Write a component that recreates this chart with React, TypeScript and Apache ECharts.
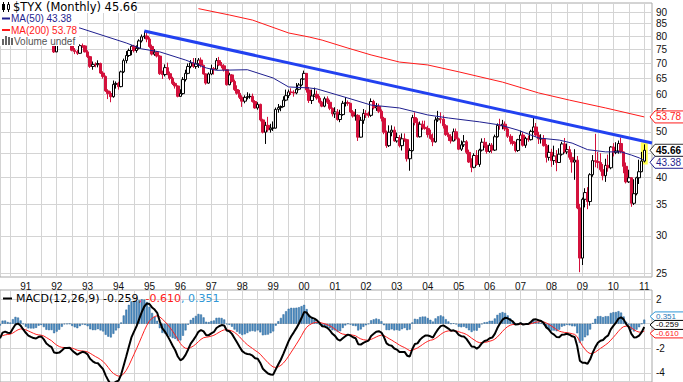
import React, { useEffect, useRef } from 'react';
import * as echarts from 'echarts';

// ---- categories: months shown on the x axis ----
const FIRST_YEAR = 1990;
const FIRST_MONTH = 3;
const LAST_YEAR = 2011;
const LAST_MONTH = 4;

// ---- $TYX monthly candles: [open, close, low, high] (yield x10) ----
const c1990 = [
  [84.6, 86.3, 84.0, 87.2], [86.3, 90.0, 86.0, 90.6], [90.0, 86.2, 85.5, 90.8], [86.2, 84.3, 83.6, 86.6],
  [84.3, 84.8, 83.4, 85.6], [84.8, 89.5, 84.5, 90.9], [89.5, 89.9, 88.7, 91.3], [89.9, 87.6, 87.0, 90.4],
  [87.6, 84.8, 84.2, 88.2], [84.8, 82.5, 81.8, 85.2],
];
const c1991 = [
  [82.5, 82.1, 81.0, 83.6], [82.1, 81.8, 80.6, 82.9], [81.8, 82.6, 81.2, 83.5], [82.6, 82.2, 80.9, 83.1],
  [82.2, 82.6, 81.6, 83.4], [82.6, 84.5, 82.3, 85.0], [84.5, 83.4, 82.9, 85.2], [83.4, 79.9, 79.5, 83.6],
  [79.9, 77.8, 77.3, 80.3], [77.8, 78.9, 77.4, 79.7], [78.9, 78.7, 77.9, 79.9], [78.7, 74.0, 73.6, 79.0],
];
const c1992 = [
  [74.0, 77.7, 73.9, 78.2], [77.7, 78.0, 77.0, 78.8], [78.0, 79.6, 77.5, 80.1], [79.6, 80.0, 78.7, 80.7],
  [80.0, 77.9, 77.4, 80.2], [77.9, 77.8, 77.0, 78.6], [77.8, 74.6, 74.2, 78.0], [74.6, 74.1, 73.2, 75.4],
  [74.1, 73.5, 72.9, 74.7], [73.5, 76.3, 73.3, 76.8], [76.3, 76.2, 75.5, 77.1], [76.2, 74.0, 73.8, 76.5],
];
const c1993 = [
  [74.0, 72.3, 71.8, 74.6], [72.3, 68.9, 68.4, 72.6], [68.9, 69.6, 67.8, 70.6], [69.6, 69.5, 68.6, 70.3],
  [69.5, 69.9, 68.6, 71.0], [69.9, 66.7, 66.4, 70.2], [66.7, 65.6, 64.9, 67.3], [65.6, 61.1, 60.8, 65.9],
  [61.1, 60.3, 58.7, 61.6], [60.3, 59.4, 57.8, 61.0], [59.4, 63.1, 59.1, 64.3], [63.1, 63.4, 61.8, 64.0],
];
const c1994 = [
  [63.4, 62.4, 61.5, 63.9], [62.4, 67.1, 62.2, 67.5], [67.1, 70.9, 66.7, 71.6], [70.9, 72.7, 70.0, 74.3],
  [72.7, 74.5, 72.2, 75.2], [74.5, 76.1, 72.8, 76.5], [76.1, 74.5, 73.8, 76.6], [74.5, 75.3, 73.7, 76.4],
  [75.3, 78.1, 74.9, 78.7], [78.1, 79.7, 77.5, 80.6], [79.7, 80.0, 78.9, 81.9], [80.0, 78.8, 77.6, 81.5],
];
const c1995 = [
  [78.8, 76.0, 75.5, 79.5], [76.0, 73.2, 72.7, 76.7], [73.2, 73.9, 72.6, 75.0], [73.9, 72.5, 72.0, 74.3],
  [72.5, 66.5, 66.1, 72.8], [66.5, 66.2, 64.8, 67.5], [66.2, 68.5, 65.6, 69.6], [68.5, 66.5, 66.0, 70.2],
  [66.5, 65.0, 64.4, 67.2], [65.0, 63.4, 62.9, 65.5], [63.4, 62.6, 61.8, 63.9], [62.6, 59.5, 59.2, 62.8],
];
const c1996 = [
  [59.5, 60.3, 59.4, 61.6], [60.3, 64.6, 60.0, 65.4], [64.6, 66.6, 64.0, 67.8], [66.6, 68.9, 66.3, 69.9],
  [68.9, 70.1, 68.3, 71.1], [70.1, 68.9, 68.4, 71.8], [68.9, 69.8, 68.1, 71.8], [69.8, 71.1, 68.4, 71.8],
  [71.1, 69.3, 68.6, 72.0], [69.3, 66.4, 66.2, 69.5], [66.4, 63.5, 63.0, 66.6], [63.5, 66.4, 63.3, 66.9],
];
const c1997 = [
  [66.4, 68.1, 66.0, 69.5], [68.1, 68.0, 66.2, 68.7], [68.0, 70.9, 67.8, 71.8], [70.9, 69.4, 69.0, 72.2],
  [69.4, 69.1, 68.3, 70.4], [69.1, 67.8, 67.2, 69.7], [67.8, 63.0, 62.7, 67.9], [63.0, 66.1, 62.8, 66.8],
  [66.1, 64.0, 63.6, 66.4], [64.0, 61.5, 61.1, 64.6], [61.5, 60.4, 60.0, 62.8], [60.4, 59.2, 58.7, 61.4],
];
const c1998 = [
  [59.2, 58.1, 56.5, 59.8], [58.1, 59.2, 57.5, 59.8], [59.2, 59.4, 58.6, 60.7], [59.4, 59.5, 58.8, 60.3],
  [59.5, 58.0, 57.7, 60.3], [58.0, 56.2, 56.0, 58.4], [56.2, 57.2, 55.7, 57.8], [57.2, 53.0, 52.6, 57.4],
  [53.0, 49.9, 49.6, 53.3], [49.9, 51.6, 47.1, 52.5], [51.6, 50.5, 50.0, 53.8], [50.5, 50.9, 49.8, 52.0],
];
const c1999 = [
  [50.9, 50.9, 50.2, 52.6], [50.9, 55.8, 50.8, 56.3], [55.8, 56.3, 54.9, 57.3], [56.3, 56.6, 55.3, 56.9],
  [56.6, 58.4, 56.4, 59.5], [58.4, 59.7, 58.1, 61.5], [59.7, 60.8, 59.0, 61.5], [60.8, 60.6, 59.9, 61.9],
  [60.6, 60.5, 59.4, 61.3], [60.5, 61.6, 60.1, 63.5], [61.6, 62.9, 61.3, 63.5], [62.9, 64.8, 62.5, 65.0],
];
const c2000 = [
  [64.8, 66.6, 64.6, 67.5], [66.6, 61.4, 60.6, 66.7], [61.4, 58.3, 57.6, 62.3], [58.3, 59.6, 57.3, 61.5],
  [59.6, 60.1, 59.4, 62.1], [60.1, 59.0, 58.5, 61.2], [59.0, 57.8, 57.4, 59.6], [57.8, 56.7, 56.4, 58.2],
  [56.7, 58.8, 56.4, 59.4], [58.8, 57.8, 57.3, 59.5], [57.8, 56.1, 55.6, 58.5], [56.1, 54.6, 53.9, 56.3],
];
const c2001 = [
  [54.6, 55.1, 53.5, 56.4], [55.1, 53.1, 52.8, 55.9], [53.1, 54.4, 52.4, 55.7], [54.4, 57.5, 54.1, 58.2],
  [57.5, 57.7, 56.6, 59.3], [57.7, 57.5, 56.8, 58.3], [57.5, 55.1, 54.8, 57.6], [55.1, 54.0, 53.6, 55.6],
  [54.0, 54.2, 52.8, 55.9], [54.2, 48.7, 47.8, 54.5], [48.7, 52.9, 48.6, 53.8], [52.9, 54.7, 52.0, 55.9],
];
const c2002 = [
  [54.7, 54.3, 53.5, 55.6], [54.3, 54.2, 53.6, 55.2], [54.2, 58.0, 53.8, 58.9], [58.0, 56.2, 55.8, 58.5],
  [56.2, 56.6, 55.4, 57.6], [56.6, 55.3, 54.8, 57.4], [55.3, 53.4, 52.6, 55.8], [53.4, 49.9, 49.4, 53.8],
  [49.9, 46.7, 46.2, 50.3], [46.7, 49.9, 46.4, 51.6], [49.9, 50.4, 48.9, 51.6], [50.4, 47.8, 47.6, 51.3],
];
const c2003 = [
  [47.8, 48.6, 47.4, 49.8], [48.6, 46.7, 46.3, 49.2], [46.7, 48.3, 45.6, 49.6], [48.3, 48.1, 47.6, 49.6],
  [48.1, 43.8, 43.2, 48.3], [43.8, 45.6, 41.3, 46.1], [45.6, 53.6, 45.4, 54.3], [53.6, 52.3, 51.6, 55.0],
  [52.3, 48.8, 48.6, 53.4], [48.8, 51.9, 48.6, 52.6], [51.9, 51.1, 50.5, 52.8], [51.1, 50.8, 50.5, 52.8],
];
const c2004 = [
  [50.8, 49.3, 48.6, 51.5], [49.3, 48.4, 48.1, 50.5], [48.4, 47.6, 46.6, 49.6], [47.6, 53.0, 47.4, 53.8],
  [53.0, 53.3, 52.5, 55.4], [53.3, 53.2, 52.1, 55.0], [53.2, 51.5, 50.8, 54.2], [51.5, 49.3, 49.0, 51.9],
  [49.3, 48.8, 47.8, 49.8], [48.8, 47.8, 47.2, 49.4], [47.8, 50.0, 47.7, 50.8], [50.0, 48.3, 47.9, 50.8],
];
const c2005 = [
  [48.3, 45.9, 45.7, 48.6], [45.9, 46.9, 45.5, 47.9], [46.9, 47.6, 46.4, 49.2], [47.6, 45.2, 44.8, 48.0],
  [45.2, 43.1, 42.9, 45.8], [43.1, 42.0, 41.0, 43.9], [42.0, 44.5, 41.8, 45.0], [44.5, 42.6, 42.3, 45.7],
  [42.6, 45.7, 42.1, 46.0], [45.7, 47.5, 45.4, 48.4], [47.5, 46.8, 46.2, 48.5], [46.8, 45.4, 44.9, 47.6],
];
const c2006 = [
  [45.4, 46.8, 45.1, 47.3], [46.8, 45.7, 45.0, 47.3], [45.7, 48.8, 45.5, 49.3], [48.8, 51.6, 48.6, 52.1],
  [51.6, 51.5, 50.5, 53.3], [51.5, 51.9, 50.6, 53.0], [51.9, 50.7, 50.2, 52.6], [50.7, 48.9, 48.5, 51.1],
  [48.9, 47.7, 47.0, 49.4], [47.7, 47.2, 46.7, 49.0], [47.2, 45.6, 45.2, 47.6], [45.6, 48.1, 45.3, 48.3],
];
const c2007 = [
  [48.1, 49.2, 47.8, 50.3], [49.2, 46.8, 46.5, 49.9], [46.8, 48.4, 46.2, 48.8], [48.4, 48.1, 47.6, 49.1],
  [48.1, 50.1, 47.9, 50.5], [50.1, 51.2, 49.8, 54.0], [51.2, 49.2, 48.8, 52.2], [49.2, 48.3, 47.1, 50.0],
  [48.3, 48.3, 47.2, 49.4], [48.3, 46.7, 46.5, 49.2], [46.7, 44.1, 43.0, 47.1], [44.1, 45.2, 43.4, 46.9],
];
const c2008 = [
  [45.2, 43.4, 42.1, 46.0], [43.4, 44.4, 42.5, 46.7], [44.4, 43.0, 41.2, 45.7], [43.0, 44.8, 42.9, 46.1],
  [44.8, 47.1, 44.5, 47.6], [47.1, 45.3, 45.0, 48.5], [45.3, 45.8, 44.8, 47.2], [45.8, 44.1, 43.6, 46.6],
  [44.1, 43.1, 40.9, 45.2], [43.1, 43.5, 39.5, 45.9], [43.5, 34.4, 34.2, 44.4], [34.4, 26.9, 25.1, 35.1],
];
const c2009 = [
  [26.9, 35.9, 26.0, 36.2], [35.9, 37.1, 34.5, 37.9], [37.1, 35.5, 34.2, 38.1], [35.5, 40.5, 34.8, 40.8],
  [40.5, 43.4, 40.1, 44.6], [43.4, 43.2, 42.0, 49.5], [43.2, 43.0, 41.8, 45.3], [43.0, 41.5, 41.1, 45.0],
  [41.5, 40.3, 39.4, 42.7], [40.3, 42.4, 39.1, 43.8], [42.4, 41.9, 41.1, 44.7], [41.9, 46.4, 41.6, 46.6],
];
const c2010 = [
  [46.4, 45.2, 44.3, 47.3], [45.2, 45.5, 44.8, 47.5], [45.5, 47.2, 44.9, 47.9], [47.2, 45.3, 45.0, 48.6],
  [45.3, 42.2, 40.8, 45.4], [42.2, 39.1, 38.8, 43.0], [39.1, 39.9, 38.9, 41.5], [39.9, 35.2, 34.6, 40.0],
  [35.2, 36.9, 34.9, 39.6], [36.9, 39.9, 36.6, 40.1], [39.9, 41.1, 38.7, 43.6], [41.1, 43.3, 41.0, 45.3],
];
const c2011 = [[43.3, 45.66, 43.0, 47.0]];

// ---- moving averages: [month, value] ----
const ma50Points: [string, number][] = [
  ['1990-03', 85.0], ['1992-10', 83.2], ['1994-04', 77.3], ['1994-10', 75.1], ['1995-05', 74.0],
  ['1996-03', 71.1], ['1996-11', 68.4], ['1997-03', 67.6], ['1998-03', 67.8], ['1999-01', 65.1],
  ['1999-07', 62.3], ['2000-03', 62.0], ['2000-06', 61.7], ['2001-06', 59.0], ['2002-03', 57.0],
  ['2003-02', 56.2], ['2004-01', 54.3], ['2004-09', 53.5], ['2005-09', 52.5], ['2006-05', 51.7],
  ['2006-12', 50.4], ['2007-08', 48.5], ['2008-04', 48.0], ['2008-09', 47.3], ['2009-03', 45.8],
  ['2009-10', 45.3], ['2010-04', 45.3], ['2010-08', 44.6], ['2010-11', 44.0], ['2011-01', 43.38],
];
const ma200Points: [string, number][] = [
  ['1996-08', 91.5], ['1997-08', 88.7], ['1998-05', 86.5], ['1999-07', 81.2], ['2000-03', 79.6],
  ['2000-08', 78.4], ['2001-06', 75.4], ['2002-03', 72.9], ['2003-02', 70.4], ['2004-01', 69.4],
  ['2005-01', 67.1], ['2006-06', 63.8], ['2007-08', 60.5], ['2008-08', 58.4], ['2009-10', 56.2],
  ['2011-01', 53.78],
];
const trendPoints: [string, number][] = [['1994-11', 82.0], ['2011-04', 47.3]];

// ---- axis ticks (gridlines) and the tick labels left visible ----
const priceTicks = [25, 30, 35, 40, 45, 50, 55, 60, 65, 70, 75, 80, 85, 90];
const priceLabels = [25, 30, 35, 40, 50, 55, 60, 65, 70, 75, 80, 85, 90];
const macdTicks = [-4, -2, 0, 2];
const macdLabels = [-4, -2, 2];

// ---- last values shown in legends / tags ----
const lastClose = 45.66;
const lastMa50 = 43.38;
const lastMa200 = 53.78;
const lastMacd = -0.259;
const lastSignal = -0.61;
const lastHist = 0.351;

// state of the MACD averages just before the first visible month
const macdSeed = { ema12: 85.0, ema26: 86.4, signal: -1.0 };

const AXIS_FONT = '"Liberation Sans", Arial, sans-serif';
const LEG_FONT = '"DejaVu Sans", Verdana, sans-serif';
const RED = '#d3113c';
const HIST_BLUE = '#4a8cc4';
const NAVY = '#1f1f8f';
const LINE_RED = '#ff1a1a';

function buildMonths(): string[] {
  const out: string[] = [];
  let y = FIRST_YEAR;
  let m = FIRST_MONTH;
  while (y < LAST_YEAR || (y === LAST_YEAR && m <= LAST_MONTH)) {
    out.push(`${y}-${String(m).padStart(2, '0')}`);
    m += 1;
    if (m > 12) { m = 1; y += 1; }
  }
  return out;
}

export default function App() {
  const ref = useRef<HTMLDivElement>(null);
  useEffect(() => {
    const months = buildMonths();
    const candles = [
      ...c1990, ...c1991, ...c1992, ...c1993, ...c1994, ...c1995, ...c1996, ...c1997, ...c1998, ...c1999,
      ...c2000, ...c2001, ...c2002, ...c2003, ...c2004, ...c2005, ...c2006, ...c2007, ...c2008, ...c2009,
      ...c2010, ...c2011,
    ];
    const L = Math.log;
    const candleData = candles.map((c) => c.map((v) => L(v)));
    const closes = candles.map((c) => c[1]);

    // MACD(12,26,9)
    let e12 = macdSeed.ema12, e26 = macdSeed.ema26, sig = macdSeed.signal;
    const macd: number[] = [], signal: number[] = [], hist: number[] = [];
    closes.forEach((c) => {
      e12 += (c - e12) * (2 / 13);
      e26 += (c - e26) * (2 / 27);
      const m = e12 - e26;
      sig += (m - sig) * (2 / 10);
      macd.push(m); signal.push(sig); hist.push(m - sig);
    });

    const yMaxLn = 4.544;
    const yMinLn = 3.1993;
    const gridLine = { show: true, lineStyle: { color: '#d4d4d4', width: 1 } };
    const halfYear = (_i: number, v: string) => v.endsWith('-01') || v.endsWith('-07');

    const chart = echarts.init(ref.current!, null, { renderer: 'svg' });
    chart.setOption({
      animation: false,
      backgroundColor: '#fff',
      grid: [
        { left: 0, right: 31, top: 3, height: 274, show: true, borderColor: '#a8a8a8', borderWidth: 1, backgroundColor: 'transparent' },
        { left: 0, right: 31, top: 290, height: 92, show: true, borderColor: '#a8a8a8', borderWidth: 1, backgroundColor: 'transparent' },
      ],
      xAxis: [
        {
          type: 'category', gridIndex: 0, data: months, boundaryGap: false,
          axisLine: { show: false }, axisTick: { show: false },
          axisLabel: {
            interval: (_i: number, v: string) => v.endsWith('-01'),
            formatter: (v: string) => v.slice(2, 4),
            fontSize: 10, fontFamily: AXIS_FONT, color: '#111', margin: 4,
          },
          splitLine: { ...gridLine, interval: halfYear },
        },
        {
          type: 'category', gridIndex: 1, data: months, boundaryGap: false,
          axisLine: { show: false }, axisTick: { show: false }, axisLabel: { show: false },
          splitLine: { ...gridLine, interval: halfYear },
        },
      ],
      yAxis: [
        {
          type: 'value', gridIndex: 0, position: 'right', min: yMinLn, max: yMaxLn, scale: true,
          axisLine: { show: false },
          axisTick: { show: false, customValues: priceTicks.map((t) => L(t)) },
          axisLabel: {
            customValues: priceLabels.map((t) => L(t)),
            formatter: (v: number) => String(Math.round(Math.exp(v))),
            fontSize: 10, fontFamily: AXIS_FONT, color: '#111', margin: 4,
          },
          splitLine: gridLine,
        },
        {
          type: 'value', gridIndex: 1, position: 'right', min: -4.75, max: 2.75,
          axisLine: { show: false },
          axisTick: { show: false, customValues: macdTicks },
          axisLabel: {
            customValues: macdLabels,
            formatter: (v: number) => String(Math.round(v)),
            fontSize: 10, fontFamily: AXIS_FONT, color: '#111', margin: 4,
          },
          splitLine: gridLine,
        },
      ],
      series: [
        {
          type: 'candlestick', xAxisIndex: 0, yAxisIndex: 0, data: candleData, barWidth: 3,
          itemStyle: { color: '#ffffff', color0: RED, borderColor: '#000000', borderColor0: RED, borderWidth: 1 },
        },
        {
          type: 'line', xAxisIndex: 0, yAxisIndex: 0, symbol: 'none',
          data: ma50Points.map(([m, v]) => [m, L(v)]),
          lineStyle: { color: NAVY, width: 1 },
        },
        {
          type: 'line', xAxisIndex: 0, yAxisIndex: 0, symbol: 'none',
          data: ma200Points.map(([m, v]) => [m, L(v)]),
          lineStyle: { color: LINE_RED, width: 1 },
        },
        {
          type: 'line', xAxisIndex: 0, yAxisIndex: 0, symbol: 'none',
          data: trendPoints.map(([m, v]) => [m, L(v)]),
          lineStyle: { color: '#2241f0', width: 3 },
        },
        {
          type: 'bar', xAxisIndex: 1, yAxisIndex: 1, data: hist, barWidth: 2,
          itemStyle: { color: HIST_BLUE, borderColor: '#2a6496', borderWidth: 0.5 },
        },
        {
          type: 'line', xAxisIndex: 1, yAxisIndex: 1, symbol: 'none', data: signal,
          lineStyle: { color: '#ff2020', width: 1 },
        },
        {
          type: 'line', xAxisIndex: 1, yAxisIndex: 1, symbol: 'none', data: macd,
          lineStyle: { color: '#000', width: 2 },
        },
      ],
    });

    const p0 = (i: number, v: number) => chart.convertToPixel({ gridIndex: 0 }, [i, v]) as number[];
    const p1 = (i: number, v: number) => chart.convertToPixel({ gridIndex: 1 }, [i, v]) as number[];
    const lastIdx = candles.length - 1;
    const last = candles[lastIdx];
    const hi = p0(lastIdx, L(last[3]));
    const lo = p0(lastIdx, L(last[2]));

    const tag = (y: number, text: string, stroke: string, fill: string, size: number, bold = false, z = 100, h = 6) => ({
      type: 'group', z,
      children: [
        {
          type: 'polygon', z,
          shape: { points: [[650, y], [655, y - h], [684, y - h], [684, y + h], [655, y + h]] },
          style: { fill: '#fff', stroke, lineWidth: 1 },
        },
        {
          type: 'text', z: z + 1, x: 656, y,
          style: {
            text, fill, font: `${bold ? 'bold ' : ''}${size}px ${AXIS_FONT}`,
            verticalAlign: 'middle', textVerticalAlign: 'middle', lineHeight: size,
          },
        },
      ],
    });

    const yClose = p0(lastIdx, L(lastClose))[1];
    let yMa50 = p0(lastIdx, L(lastMa50))[1];
    if (yMa50 - yClose < 12) yMa50 = yClose + 12;
    const yMa200 = p0(lastIdx, L(lastMa200))[1];
    const yMacd = p1(lastIdx, lastMacd)[1] - 2;
    const yHist = Math.min(p1(lastIdx, lastHist)[1], yMacd - 8.5);
    const ySig = Math.max(p1(lastIdx, lastSignal)[1], yMacd + 8.5);

    const legendRow = (x: number, y: number, text: string, color: string, font: string) => ({
      type: 'text', z: 101, x, y,
      style: { text, fill: color, font, verticalAlign: 'middle', textVerticalAlign: 'middle', lineHeight: 10 },
    });

    chart.setOption({
      graphic: [
        // highlight of the last candle
        { type: 'rect', z: 1, shape: { x: hi[0] - 3.5, y: hi[1] - 2, width: 7, height: lo[1] - hi[1] + 4 }, style: { fill: '#ffff4d' } },
        // legend backgrounds
        { type: 'rect', z: 99, shape: { x: 0, y: 0, width: 137, height: 13 }, style: { fill: '#fff' } },
        { type: 'rect', z: 99, shape: { x: 0, y: 13, width: 79, height: 33 }, style: { fill: '#fff' } },
        // candle icon
        { type: 'line', z: 101, shape: { x1: 3.5, y1: 2, x2: 3.5, y2: 12 }, style: { stroke: '#000', lineWidth: 1 } },
        { type: 'rect', z: 101, shape: { x: 2, y: 4, width: 3, height: 6 }, style: { fill: '#000' } },
        { type: 'line', z: 101, shape: { x1: 8.5, y1: 2, x2: 8.5, y2: 12 }, style: { stroke: '#000', lineWidth: 1 } },
        { type: 'rect', z: 101, shape: { x: 7.5, y: 4.5, width: 2, height: 5 }, style: { fill: '#fff', stroke: '#000', lineWidth: 1 } },
        legendRow(13, 7, `$TYX (Monthly) ${lastClose.toFixed(2)}`, '#000', `11.5px ${LEG_FONT}`),
        { type: 'line', z: 101, shape: { x1: 2, y1: 18.5, x2: 10, y2: 18.5 }, style: { stroke: NAVY, lineWidth: 2 } },
        legendRow(11, 18.5, `MA(50) ${lastMa50.toFixed(2)}`, NAVY, `10px ${AXIS_FONT}`),
        { type: 'line', z: 101, shape: { x1: 2, y1: 30, x2: 10, y2: 30 }, style: { stroke: LINE_RED, lineWidth: 2 } },
        legendRow(11, 30, `MA(200) ${lastMa200.toFixed(2)}`, LINE_RED, `10px ${AXIS_FONT}`),
        { type: 'rect', z: 101, shape: { x: 2, y: 39, width: 2, height: 6 }, style: { fill: '#666' } },
        { type: 'rect', z: 101, shape: { x: 5, y: 36, width: 2, height: 9 }, style: { fill: '#666' } },
        { type: 'rect', z: 101, shape: { x: 8, y: 37, width: 2, height: 8 }, style: { fill: '#666' } },
        { type: 'rect', z: 101, shape: { x: 11, y: 38, width: 2, height: 7 }, style: { fill: '#666' } },
        legendRow(14, 41, 'Volume undef', '#555', `10px ${AXIS_FONT}`),
        // MACD legend
        { type: 'line', z: 101, shape: { x1: 3, y1: 298.5, x2: 12, y2: 298.5 }, style: { stroke: '#000', lineWidth: 2 } },
        {
          type: 'text', z: 101, x: 16, y: 298.5,
          style: {
            text: `{a|MACD(12,26,9) ${lastMacd.toFixed(3)}}{b|, ${lastSignal.toFixed(3)}}{c|, ${lastHist.toFixed(3)}}`,
            verticalAlign: 'middle', textVerticalAlign: 'middle',
            rich: {
              a: { fill: '#000', color: '#000', font: `11px ${LEG_FONT}`, lineHeight: 11 },
              b: { fill: LINE_RED, color: LINE_RED, font: `11px ${LEG_FONT}`, lineHeight: 11 },
              c: { fill: '#2f97d6', color: '#2f97d6', font: `11px ${LEG_FONT}`, lineHeight: 11 },
            },
          },
        },
        // value tags
        tag(yMa200, lastMa200.toFixed(2), LINE_RED, LINE_RED, 10),
        tag(yMa50, lastMa50.toFixed(2), NAVY, NAVY, 10),
        tag(yClose, lastClose.toFixed(2), '#333', '#000', 10, true, 110),
        tag(yHist, lastHist.toFixed(3), '#2f97d6', '#1f77b6', 8, false, 100, 4.5),
        tag(ySig, lastSignal.toFixed(3), LINE_RED, LINE_RED, 8, false, 104, 4.5),
        tag(yMacd, lastMacd.toFixed(3), '#000', '#000', 8, false, 108, 4.5),
      ],
    });

    return () => chart.dispose();
  }, []);

  return (
    <div
      ref={ref}
      style={{ position: 'fixed', left: 0, top: 0, width: 683, height: 382, background: '#fff' }}
    />
  );
}
